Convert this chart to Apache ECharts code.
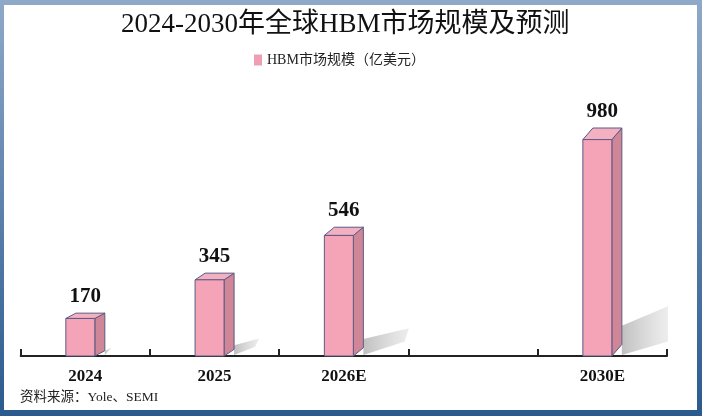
<!DOCTYPE html>
<html>
<head>
<meta charset="utf-8">
<script src="https://cdn.jsdelivr.net/npm/echarts@6/dist/echarts.min.js"></script>
<style>
  html, body { margin: 0; padding: 0; }
  #chart { width: 702px; height: 416px; }
</style>
</head>
<body>
<div id="chart"></div>
<script>
// 数据
var categories = ['2024', '2025', '2026E', '', '2030E'];
var marketSize = [170, 345, 546, null, 980];
var seriesName = 'HBM市场规模（亿美元）';

var serif = '"Liberation Serif", "Times New Roman", "Noto Sans CJK SC", serif';

var barData = [];
for (let i = 0; i < marketSize.length; i++) {
    if (marketSize[i] != null) {
        barData.push([i, marketSize[i]]);
    }
}

// 3D 柱子：正面 + 侧面 + 顶面 + 阴影
function renderBox(params, api) {
    let idx = api.value(0);
    let val = api.value(1);
    let top = api.coord([idx, val]);
    let bottom = api.coord([idx, 0]);
    let cx = top[0];
    let yTop = top[1];
    let base = bottom[1];
    let h = base - yTop;
    let dx = 10;
    let dy = 4 + 0.035 * h;   // 越高的柱子顶面越厚
    let fl = cx - 19.5;
    let fr = cx + 9.5;
    let br = fr + dx;
    let xMax = params.coordSys.x + params.coordSys.width + 1;

    // 阴影：从侧面底部斜向右上，下沿按边界裁剪
    let L = 0.46 * h;
    let ax = br, ay = base - 1;
    let bx = fr + L - 4, by = base - 0.12 * h;
    if (bx > xMax) {
        by = ay - (ay - by) * (xMax - ax) / (bx - ax);
        bx = xMax;
    }
    let shadowPts = [
        [ax, ay],
        [bx, by],
        [Math.min(fr + L, xMax), base - 0.23 * h],
        [br, base - Math.max(0.14 * h, dy)]
    ];

    let stroke = '#5c5a86';
    return {
        type: 'group',
        children: [
            {
                type: 'polygon',
                shape: { points: shadowPts },
                style: {
                    fill: new echarts.graphic.LinearGradient(0, 0, 1, 0, [
                        { offset: 0, color: 'rgba(170,170,170,0.75)' },
                        { offset: 1, color: 'rgba(210,210,210,0.4)' }
                    ])
                },
                z2: 1
            },
            {
                type: 'polygon',
                shape: { points: [[fr, yTop], [br, yTop - dy], [br, base - dy], [fr, base]] },
                style: { fill: '#cf8696', stroke: stroke, lineWidth: 1 },
                z2: 2
            },
            {
                type: 'polygon',
                shape: { points: [[fl, yTop], [fl + dx, yTop - dy], [br, yTop - dy], [fr, yTop]] },
                style: { fill: '#f3b0c0', stroke: stroke, lineWidth: 1 },
                z2: 2
            },
            {
                type: 'rect',
                shape: { x: fl, y: yTop, width: fr - fl, height: h },
                style: { fill: '#f5a3b6', stroke: stroke, lineWidth: 1 },
                z2: 3
            },
            {
                type: 'text',
                style: {
                    text: String(val),
                    x: cx,
                    y: yTop - dy - 6,
                    align: 'center',
                    verticalAlign: 'bottom',
                    fontSize: 21,
                    fontWeight: 'bold',
                    fontFamily: serif,
                    fill: '#111'
                },
                z2: 4
            }
        ]
    };
}

let chart = echarts.init(document.getElementById('chart'));
option = {
    backgroundColor: new echarts.graphic.LinearGradient(0, 0, 0, 1, [
        { offset: 0, color: '#8fa9c9' },
        { offset: 1, color: '#2a5a8e' }
    ]),
    animation: false,
    graphic: [
        {
            type: 'rect',
            z: -10,
            shape: { x: 4, y: 5, width: 693, height: 405 },
            style: { fill: '#ffffff' }
        },
        {
            type: 'text',
            left: 20,
            top: 391,
            style: {
                text: '资料来源：Yole、SEMI',
                fontSize: 13.5,
                fontFamily: serif,
                fill: '#222'
            }
        }
    ],
    title: {
        text: '2024-2030年全球HBM市场规模及预测',
        left: 116,
        top: 6,
        textStyle: {
            fontSize: 27,
            fontWeight: 'normal',
            fontFamily: serif,
            color: '#111'
        }
    },
    legend: {
        left: 249,
        top: 48,
        icon: 'rect',
        itemWidth: 8,
        itemHeight: 11,
        itemGap: 6,
        data: [{ name: seriesName, itemStyle: { color: '#ef9fb3' } }],
        textStyle: { fontSize: 14, fontFamily: serif, color: '#222' }
    },
    grid: {
        left: 20.7,
        right: 35,
        top: 91,
        bottom: 60
    },
    xAxis: {
        type: 'category',
        data: categories,
        boundaryGap: true,
        axisLine: { lineStyle: { color: '#222', width: 2 } },
        axisTick: {
            show: true,
            interval: 0,
            inside: true,
            length: 7,
            lineStyle: { color: '#222', width: 2 }
        },
        axisLabel: {
            interval: 0,
            margin: 12,
            fontSize: 17,
            fontWeight: 'bold',
            fontFamily: serif,
            color: '#111'
        }
    },
    yAxis: {
        type: 'value',
        min: 0,
        max: 1200,
        show: false
    },
    series: [
        {
            name: seriesName,
            type: 'custom',
            renderItem: renderBox,
            itemStyle: { color: '#ef9fb3' },
            encode: { x: 0, y: 1 },
            data: barData,
            clip: false
        }
    ]
};
chart.setOption(option);
</script>
</body>
</html>
